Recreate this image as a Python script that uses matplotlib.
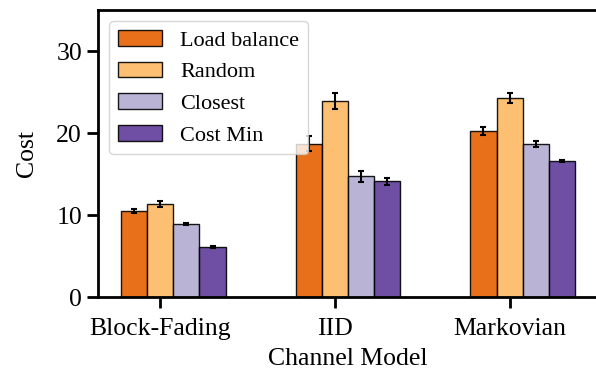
import numpy as np
import matplotlib
matplotlib.use("Agg")
import matplotlib.pyplot as plt

plt.rcParams['font.family'] = ['Liberation Serif', 'DejaVu Serif']
plt.rcParams['mathtext.fontset'] = 'stix'

# data
channels = ['Block-Fading', 'IID', 'Markovian']
methods = ['Load balance', 'Random', 'Closest', 'Cost Min']
load_balance = [10.5, 18.7, 20.2]
random_sel = [11.3, 23.9, 24.3]
closest = [8.9, 14.7, 18.7]
cost_min = [6.1, 14.1, 16.6]
load_balance_err = [0.2, 0.9, 0.5]
random_err = [0.35, 0.95, 0.6]
closest_err = [0.15, 0.7, 0.35]
cost_min_err = [0.15, 0.45, 0.15]

colors = ['#e66101', '#fdb863', '#b2abd2', '#5e3c99']
series = [load_balance, random_sel, closest, cost_min]
errs = [load_balance_err, random_err, closest_err, cost_min_err]

fig = plt.figure(figsize=(5.96, 3.75), dpi=100)
ax = fig.add_axes([98 / 596, 1 - 297 / 375, 500 / 596, 287 / 375])

x = np.arange(len(channels))
w = 0.15
for i, (vals, e, c, lab) in enumerate(zip(series, errs, colors, methods)):
    ax.bar(x + (i - 1) * w, vals, w, yerr=e, color=c, alpha=0.9,
           edgecolor='black', linewidth=1.0, label=lab,
           error_kw=dict(ecolor='black', elinewidth=1.5, capsize=2.5, capthick=1.5))

ax.set_ylim(0, 35)
ax.set_yticks([0, 10, 20, 30])
ax.set_xticks(x)
ax.set_xticklabels(channels)
ax.tick_params(labelsize=18.5, width=2, length=8)
ax.tick_params(axis='x', pad=7)
for s in ax.spines.values():
    s.set_linewidth(2)
ax.set_xlabel('Channel Model', fontsize=18.5, labelpad=6)
ax.set_ylabel('Cost', fontsize=18.5, labelpad=13)
ax.legend(loc='upper left', fontsize=16, fancybox=True, framealpha=0.8)

fig.savefig('out.png', dpi=100)
